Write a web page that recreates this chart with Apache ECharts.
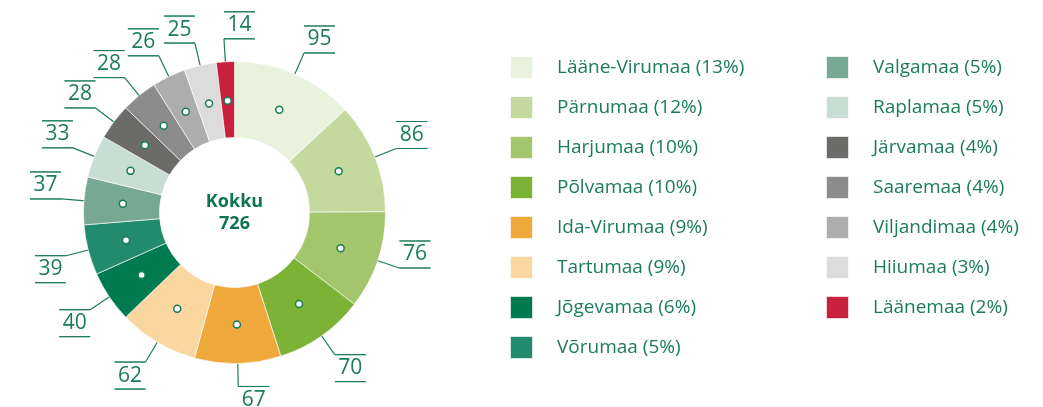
<!DOCTYPE html>
<html>
<head>
<meta charset="utf-8">
<script src="https://cdn.jsdelivr.net/npm/echarts@6/dist/echarts.min.js"></script>
<style>
html, body { margin: 0; padding: 0; background: #fff; }
#chart { width: 1043px; height: 407px; }
</style>
</head>
<body>
<div id="chart"></div>
<script>
// andmed
var counties = ['Lääne-Virumaa', 'Pärnumaa', 'Harjumaa', 'Põlvamaa', 'Ida-Virumaa', 'Tartumaa', 'Jõgevamaa', 'Võrumaa',
                'Valgamaa', 'Raplamaa', 'Järvamaa', 'Saaremaa', 'Viljandimaa', 'Hiiumaa', 'Läänemaa'];
var counts = [95, 86, 76, 70, 67, 62, 40, 39, 37, 33, 28, 28, 26, 25, 14];
var totalLabel = 'Kokku';

var colors = ['#e8f2dc', '#c4d99e', '#a3c56b', '#7cb236', '#eea83b', '#fad6a0', '#007a4f', '#238b6d',
              '#76a893', '#c8ddd4', '#6b6b69', '#8c8c8c', '#adadad', '#dcdcdc', '#c8213e'];
var green = '#1b7c57';

var CX = 234.5, CY = 212.5, R_IN = 75, R_OUT = 151;
var DOT_R = 112, ELBOW_R = 174;

var total = counts.reduce(function (a, b) { return a + b; }, 0);
var mids = [];
var run = 0;
counts.forEach(function (v) { mids.push(run + v / 2); run += v; });

function pct(name) {
    var i = counties.indexOf(name);
    return Math.round(counts[i] / total * 100);
}

var myChart = echarts.init(document.getElementById('chart'));
var option = {
    animation: false,
    color: colors,
    polar: { center: [CX, CY], radius: R_OUT },
    angleAxis: { type: 'value', min: 0, max: total, startAngle: 90, clockwise: true, show: false },
    radiusAxis: { type: 'value', min: 0, max: R_OUT, show: false },
    legend: [0, 1].map(function (k) {
        return {
            orient: 'vertical',
            left: k === 0 ? 509 : 825,
            top: 55,
            padding: 0,
            itemWidth: 23,
            itemHeight: 23,
            itemGap: 15,
            icon: 'rect',
            selectedMode: false,
            data: k === 0 ? counties.slice(0, 8) : counties.slice(8),
            formatter: function (name) { return name + ' (' + pct(name) + '%)'; },
            textStyle: { fontFamily: 'Open Sans', fontSize: 19, lineHeight: 23, color: green, padding: [0, 0, 0, 19] }
        };
    }),
    graphic: [{
        type: 'text',
        x: CX,
        y: CY,
        style: {
            text: totalLabel + '\n' + total,
            align: 'center', verticalAlign: 'middle',
            textAlign: 'center', textVerticalAlign: 'middle',
            font: 'bold 18px "Open Sans"',
            lineHeight: 22,
            fill: '#0b7650'
        }
    }],
    series: [
        {
            type: 'pie',
            center: [CX, CY],
            radius: [R_IN, R_OUT],
            startAngle: 90,
            clockwise: true,
            avoidLabelOverlap: false,
            itemStyle: { borderColor: 'rgba(255,255,255,0.8)', borderWidth: 0.8 },
            emphasis: { disabled: true },
            data: counties.map(function (n, i) { return { name: n, value: counts[i] }; }),
            label: {
                position: 'outside',
                formatter: function (p) { return '{hr|}\n{num|' + p.value + '}\n{hr|}'; },
                rich: {
                    hr: { borderColor: green, borderWidth: 1, width: '100%', height: 0 },
                    num: { fontFamily: 'Open Sans', fontSize: 21, lineHeight: 27, color: green, width: 31, align: 'center' }
                }
            },
            labelLine: { show: true, length: 20, length2: 10, lineStyle: { color: green, width: 1.2 } },
            labelLayout: function (p) {
                var a = mids[p.dataIndex] / total * 2 * Math.PI;
                var s = Math.sin(a), c = Math.cos(a);
                var dot = [CX + DOT_R * s, CY - DOT_R * c];
                var ex = CX + ELBOW_R * s, ey = CY - ELBOW_R * c;
                var right = s >= -0.1;
                var below = (ey - CY) > (right ? 60 : 30);
                return {
                    x: ex,
                    y: ey,
                    align: right ? 'left' : 'right',
                    verticalAlign: below ? 'top' : 'bottom',
                    labelLinePoints: [dot, [ex, ey], [ex, ey]]
                };
            }
        },
        {
            type: 'scatter',
            coordinateSystem: 'polar',
            silent: true,
            z: 10,
            symbolSize: 7,
            itemStyle: { color: '#fff', borderColor: green, borderWidth: 1.5, opacity: 1 },
            data: mids.map(function (m) { return [DOT_R, m]; })
        }
    ]
};
window.onresize = myChart.resize;
myChart.setOption(option);
</script>
</body>
</html>
